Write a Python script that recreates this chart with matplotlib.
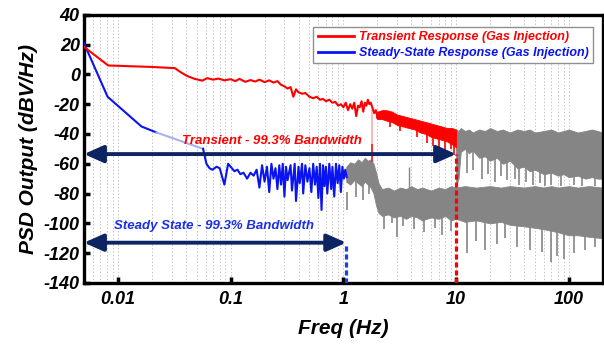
import matplotlib
matplotlib.use("Agg")
import matplotlib.pyplot as plt

plt.rcParams['font.family'] = ['Liberation Sans', 'DejaVu Sans']
plt.rcParams['axes.unicode_minus'] = False

# ---------------- data ----------------
red_f = [0.005, 0.0082, 0.02, 0.032, 0.036, 0.041, 0.048, 0.056, 0.062, 0.07, 0.078, 0.088,
         0.1, 0.11, 0.12, 0.135, 0.15, 0.165, 0.18, 0.2, 0.22, 0.24, 0.26, 0.28, 0.3, 0.32,
         0.34, 0.36, 0.38, 0.4, 0.43, 0.46, 0.5, 0.54, 0.58, 0.62, 0.66, 0.7, 0.75, 0.8,
         0.85, 0.9, 0.95, 1.0, 1.05, 1.1, 1.15, 1.2, 1.25, 1.3, 1.35, 1.4, 1.45, 1.5,
         1.55, 1.6, 1.65, 1.7, 1.75, 1.82, 1.88, 1.94, 2.0]
red_v = [18.5, 6, 5, 4.2, 1.5, -1, -3, -4.2, -2.5, -3.5, -2.8, -4,
         -3.2, -4.5, -3, -5, -3.8, -4.8, -3.5, -5.2, -4, -5.5, -4.5, -7, -8, -9.5,
         -8.5, -15, -10, -12, -13, -12.5, -15, -16, -15, -17, -16.5, -18, -17, -19,
         -18.5, -21, -20, -22, -19, -24, -20, -23, -19, -28, -21, -22, -18, -25,
         -19, -21, -17, -20, -19, -23, -26, -24, -28]

rb_f = [1.95, 2.0, 2.2, 2.4, 2.7, 3.0, 3.4, 3.8, 4.3, 4.8, 5.4, 6, 6.7, 7.5, 8.3, 9.2, 10]
rb_top = [-25, -25, -24, -24, -25, -27, -28, -29, -30, -31, -32, -33, -34, -35, -36, -36, -37]
rb_bot = [-29, -30, -30, -31, -32, -34, -35, -36, -37, -39, -40, -42, -43, -44, -45, -47, -49]
red_spk_f = [2.6, 3.2, 4.5, 5.5, 6.2, 7.0, 8.0, 9.0, 9.6]
red_spk_v = [-35, -38, -42, -46, -48, -50, -52, -50, -54]
pink_spk = [1.78, -24, -59]

blue_f = [0.005, 0.0081, 0.0162, 0.022]
blue_v = [21, -15, -35, -39]
lblue_f = [0.022, 0.057]
lblue_v = [-39, -50]
blue2_f = [0.057, 0.061, 0.065, 0.069, 0.075, 0.08, 0.088, 0.095, 0.1, 0.108,
           0.115, 0.122, 0.13, 0.14, 0.15, 0.16, 0.17, 0.18, 0.19, 0.2,
           0.21, 0.22, 0.23, 0.24, 0.25, 0.26, 0.27, 0.28, 0.29, 0.3,
           0.31, 0.32, 0.34, 0.35, 0.37, 0.38, 0.4, 0.41, 0.43, 0.44,
           0.46, 0.48, 0.5, 0.52, 0.54, 0.56, 0.58, 0.6, 0.62, 0.64,
           0.66, 0.68, 0.7, 0.72, 0.75, 0.78, 0.8, 0.83, 0.86, 0.89,
           0.92, 0.95, 0.98, 1.01, 1.04, 1.07]
blue2_v = [-50, -60, -63, -64, -62, -63, -74, -60, -62, -65,
           -64, -67, -66, -70, -66, -68, -64, -76, -61, -72,
           -62, -79, -60, -70, -63, -77, -61, -74, -60, -82,
           -62, -71, -61, -78, -60, -85, -62, -73, -60, -80,
           -61, -72, -63, -79, -60, -74, -62, -83, -60, -91,
           -61, -75, -62, -80, -60, -77, -62, -82, -60, -73,
           -61, -79, -62, -70, -64, -69]

gu_f = [10, 10.5, 11, 12, 13, 14, 16, 18, 20, 23, 26, 30, 35, 40, 45, 50, 60, 70, 80, 90,
        100, 120, 140, 160, 180, 200]
gu_top = [-37, -38, -36, -38, -37, -39, -37, -38, -36, -38, -37, -39, -37, -38, -37, -39,
          -38, -37, -39, -38, -37, -39, -38, -37, -38, -39]
gu_bot = [-75, -70, -52, -50, -53, -51, -56, -55, -58, -56, -60, -58, -63, -62, -65, -64,
          -67, -66, -68, -67, -69, -68, -70, -69, -70, -70]
gu_spk_f = [12.5, 14, 17, 19, 22, 25, 28, 33, 36, 42, 48, 55, 62, 70, 85, 110, 130, 170]
gu_spk_v = [-66, -64, -70, -67, -72, -68, -71, -70, -74, -72, -74, -73, -75, -74, -75, -74,
            -75, -75]

gl_f = [1.06, 1.15, 1.25, 1.35, 1.45, 1.55, 1.65, 1.75, 1.85, 1.95, 2.05, 2.2, 2.5, 2.8,
        3.2, 3.6, 4, 4.5, 5, 6, 7, 8, 9, 10, 12, 15, 20, 25, 30, 40, 50, 60, 70, 80, 100,
        120, 150, 200]
gl_top = [-62, -59, -60, -57, -59, -56, -58, -57, -60, -66, -73, -77, -76, -78,
          -76, -77, -75, -77, -76, -78, -76, -77, -75, -76, -75, -76, -75, -76, -75, -76,
          -75, -76, -75, -76, -75, -76, -75, -76]
gl_bot = [-72, -74, -71, -73, -75, -72, -74, -76, -80, -88, -93, -95, -94, -96,
          -95, -97, -95, -96, -98, -96, -97, -95, -98, -97, -99, -98, -100, -99, -101, -102,
          -103, -104, -105, -106, -108, -108, -109, -110]
gl_spk_f = [1.07, 1.3, 1.5, 1.7, 2.3, 2.7, 3.0, 3.4, 4.2, 5.2, 6.5, 7.5, 9, 12.5, 15, 18,
            23, 27, 35, 45, 58, 70, 78, 90, 110, 140, 170]
gl_spk_v = [-91, -82, -84, -80, -104, -100, -109, -102, -104, -106, -103, -108, -105, -120,
            -112, -118, -114, -110, -116, -118, -119, -126, -122, -124, -120, -118, -116]
gl_up_spk = [3.8, -76, -62]

arrow_transient = [0.005, 10.0, -53.5]
arrow_steady = [0.005, 1.06, -113]
xtick_vals = [0.01, 0.1, 1, 10, 100]
xtick_labels = ['0.01', '0.1', '1', '10', '100']
ytick_vals = [-140, -120, -100, -80, -60, -40, -20, 0, 20, 40]

# ---------------- figure ----------------
fig = plt.figure(figsize=(6.04, 3.45), dpi=100)
ax = fig.add_axes([0.139, 0.180, 0.859, 0.777])
ax.set_xscale('log')
ax.set_xlim(0.005, 200)
ax.set_ylim(-140, 40)

grey = '#858585'
# grey continuations
ax.fill_between(gl_f, gl_bot, gl_top, color=grey, lw=0.6, zorder=2)
ax.vlines(gl_spk_f, gl_spk_v, [max(v + 12, -95) for v in gl_spk_v],
          color=grey, lw=1.2, zorder=2)
ax.vlines([gl_up_spk[0]], [gl_up_spk[1]], [gl_up_spk[2]], color=grey, lw=1.0, zorder=2)
ax.fill_between(gu_f, gu_bot, gu_top, color=grey, lw=0.6, zorder=2)
ax.vlines(gu_spk_f, gu_spk_v, [v + 15 for v in gu_spk_v], color=grey, lw=1.2, zorder=2)

# blue steady-state
ax.plot(blue_f, blue_v, color='#0a14f0', lw=1.5, zorder=4)
ax.plot(lblue_f, lblue_v, color='#a8b0f4', lw=1.5, zorder=4)
ax.plot(blue2_f, blue2_v, color='#0a14f0', lw=1.5, zorder=4)

# red transient
ax.vlines([pink_spk[0]], [pink_spk[2] + 12], [pink_spk[1]], color='#ffb0b0', lw=1.3, zorder=3)
ax.vlines([pink_spk[0]], [pink_spk[2]], [pink_spk[2] + 12], color='#ff2020', lw=1.3, zorder=3)
ax.plot(red_f, red_v, color='#ff0000', lw=1.5, zorder=4)
ax.fill_between(rb_f, rb_bot, rb_top, color='#ff0000', lw=0.6, zorder=4)
ax.vlines(red_spk_f, red_spk_v, [v + 8 for v in red_spk_v], color='#ff0000', lw=1.2, zorder=4)

# legend handles
ax.plot([], [], color='#ff0000', lw=2, label='Transient Response (Gas Injection)')
ax.plot([], [], color='#0a14f0', lw=2, label='Steady-State Response (Gas Injection)')

# dashed bandwidth markers
ax.vlines([arrow_transient[1]], -140, arrow_transient[2], color='#ff0000', lw=2.3,
          linestyles=(0, (1.6, 0.9)), zorder=5)
ax.vlines([arrow_steady[1]], -140, arrow_steady[2], color='#1a3ee8', lw=2.3,
          linestyles=(0, (1.6, 0.9)), zorder=5)

navy = '#0c2462'
for a in (arrow_transient, arrow_steady):
    ax.annotate('', xy=(a[1], a[2]), xytext=(a[0], a[2]),
                arrowprops=dict(arrowstyle='<|-|>,head_length=0.9,head_width=0.4',
                                color=navy, lw=2.8, shrinkA=0, shrinkB=0,
                                mutation_scale=13), zorder=6)

ax.text(0.233, -45, 'Transient - 99.3% Bandwidth', color='#ff0000', fontsize=9.5,
        fontweight='bold', fontstyle='italic', ha='center', va='center', zorder=7)
ax.text(0.0707, -102, 'Steady State - 99.3% Bandwidth', color='#1a2ee8', fontsize=9.5,
        fontweight='bold', fontstyle='italic', ha='center', va='center', zorder=7)

# grid, ticks, spines
ax.grid(True, which='both', axis='x', color='#c4c4c4', ls=(0, (1.5, 2)), lw=0.7)
ax.set_axisbelow(True)
ax.set_xticks(xtick_vals)
ax.set_xticklabels(xtick_labels)
ax.set_yticks(ytick_vals)
ax.tick_params(which='major', direction='in', length=4, width=2.5, pad=6,
               labelsize=13)
ax.tick_params(which='minor', length=0)
for lab in ax.get_xticklabels() + ax.get_yticklabels():
    lab.set_fontweight('bold')
    lab.set_fontstyle('italic')
ax.tick_params(axis='y', pad=3)
for s in ax.spines.values():
    s.set_linewidth(2.4)

ax.set_xlabel('Freq (Hz)', fontsize=15, fontweight='bold', fontstyle='italic', labelpad=8)
ax.set_ylabel('PSD Output (dBV/Hz)', fontsize=15, fontweight='bold', fontstyle='italic',
              labelpad=4)

leg = ax.legend(loc='upper right', bbox_to_anchor=(0.981, 0.955), borderaxespad=0,
                fancybox=False, framealpha=1, edgecolor='#909090',
                prop=dict(size=9, weight='bold', style='italic'),
                handlelength=2.9, handletextpad=0.4, labelspacing=0.3,
                borderpad=0.35)
leg.get_frame().set_linewidth(1.0)
for t, c in zip(leg.get_texts(), ['#ff0000', '#0a14f0']):
    t.set_color(c)

fig.savefig('out.png', dpi=100)
